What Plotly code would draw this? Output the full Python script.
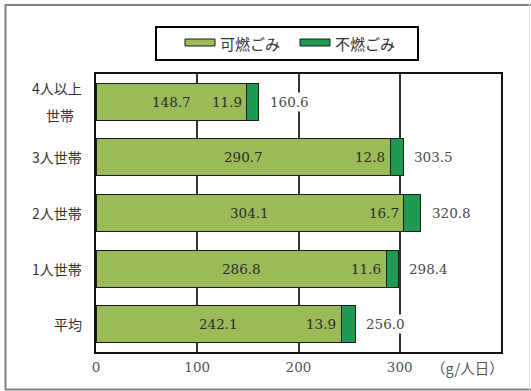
import plotly.graph_objects as go

# ---- data ----
categories = ["平均", "1人世帯", "2人世帯", "3人世帯", "4人以上<br>世帯"]
burnable = [242.1, 286.8, 304.1, 290.7, 148.7]
nonburnable = [13.9, 11.6, 16.7, 12.8, 11.9]
totals = [256.0, 298.4, 320.8, 303.5, 160.6]
x_ticks = [0, 100, 200, 300]
series_names = ["可燃ごみ", "不燃ごみ"]
unit_label = "（g/人日）"

# ---- layout constants (pixels) ----
WID, HEI = 531, 391
L, R, T, B = 96, 501, 74, 352
PW, PH = R - L, B - T

def px(x):
    return (x - L) / PW

def py(y):
    return (B - y) / PH

C1 = "#9bbb59"
C2 = "#1f9a52"
NUMFONT = "DejaVu Serif, Noto Sans CJK JP"
JPFONT = "Noto Sans CJK JP"

fig = go.Figure()
fig.add_trace(go.Bar(y=categories, x=burnable, orientation="h", name=series_names[0],
                     marker=dict(color=C1, line=dict(color="#1a1a1a", width=1)),
                     showlegend=False, hoverinfo="x"))
fig.add_trace(go.Bar(y=categories, x=nonburnable, orientation="h", name=series_names[1],
                     marker=dict(color=C2, line=dict(color="#1a1a1a", width=1)),
                     showlegend=False, hoverinfo="x"))

ann = []
for c, b1, b2, t in zip(categories, burnable, nonburnable, totals):
    ann.append(dict(x=b1 / 2, y=c, xref="x", yref="y", text=f"{b1:.1f}", showarrow=False,
                    xanchor="center", font=dict(family=NUMFONT, size=13.5, color="#2a2a2a")))
    ann.append(dict(x=b1, y=c, xref="x", yref="y", text=f"{b2:.1f}", showarrow=False,
                    xanchor="right", xshift=-3, font=dict(family=NUMFONT, size=13.5, color="#2a2a2a")))
    ann.append(dict(x=t, y=c, xref="x", yref="y", text=f"{t:.1f}", showarrow=False,
                    xanchor="left", xshift=9, bgcolor="white", borderpad=1,
                    font=dict(family=NUMFONT, size=13.5, color="#4a4a4a")))
    lines = c.split("<br>")
    n = len(lines)
    for i, ln in enumerate(lines):
        shift = (n - 1) * 13.5 - i * 27
        ann.append(dict(x=px(84), y=c, xref="paper", yref="y", text=ln, showarrow=False,
                        xanchor="right" if i == 0 else "center",
                        xshift=0 if i == 0 else -24, yshift=shift,
                        font=dict(family=JPFONT, size=14, color="#333333")))

ann.append(dict(x=px(467), y=py(367), xref="paper", yref="paper", text=unit_label,
                showarrow=False, xanchor="center", yanchor="middle",
                font=dict(family=JPFONT, size=14.5, color="#555555")))

# frame and legend (custom)
FR = "#808080"
shapes = [
    dict(type="line", xref="paper", yref="paper", x0=px(5.5), x1=px(5.5), y0=py(390), y1=py(4),
         line=dict(color=FR, width=2), layer="below"),
    dict(type="line", xref="paper", yref="paper", x0=px(5), x1=px(531), y0=py(5), y1=py(5),
         line=dict(color=FR, width=2), layer="below"),
    dict(type="line", xref="paper", yref="paper", x0=px(5), x1=px(531), y0=py(389.5), y1=py(389.5),
         line=dict(color=FR, width=2), layer="below"),
    dict(type="line", xref="paper", yref="paper", x0=px(529.5), x1=px(529.5), y0=py(390), y1=py(4),
         line=dict(color="#dddddd", width=1), layer="below"),
    dict(type="rect", xref="paper", yref="paper", x0=px(156), x1=px(418), y0=py(60), y1=py(27),
         line=dict(color="#000000", width=2), fillcolor="white"),
    dict(type="rect", xref="paper", yref="paper", x0=px(185), x1=px(215), y0=py(46), y1=py(39),
         line=dict(color="#1a1a1a", width=1), fillcolor=C1),
    dict(type="rect", xref="paper", yref="paper", x0=px(300), x1=px(330), y0=py(46), y1=py(39),
         line=dict(color="#1a1a1a", width=1), fillcolor=C2),
]
ann.append(dict(x=px(218), y=py(43), xref="paper", yref="paper", text=series_names[0],
                showarrow=False, xanchor="left", yanchor="middle",
                font=dict(family=JPFONT, size=15, color="#333333")))
ann.append(dict(x=px(333), y=py(43), xref="paper", yref="paper", text=series_names[1],
                showarrow=False, xanchor="left", yanchor="middle",
                font=dict(family=JPFONT, size=15, color="#333333")))

fig.update_layout(
    width=WID, height=HEI,
    margin=dict(l=L, r=WID - R, t=T, b=HEI - B),
    barmode="stack", bargap=0.335,
    paper_bgcolor="white", plot_bgcolor="white",
    showlegend=False,
    annotations=ann, shapes=shapes,
    xaxis=dict(range=[0, 400], tickvals=x_ticks, ticktext=[str(v) for v in x_ticks],
               showgrid=True, gridcolor="#333333", gridwidth=1.5, zeroline=False,
               showline=True, linecolor="#111111", linewidth=2, mirror=True,
               ticks="", ticklabelstandoff=2,
               tickfont=dict(family=NUMFONT, size=13.5, color="#555555")),
    yaxis=dict(showticklabels=False, showgrid=False, zeroline=False,
               showline=True, linecolor="#111111", linewidth=2, mirror=True,
               categoryorder="array", categoryarray=categories),
)

fig.write_html("out.html")
